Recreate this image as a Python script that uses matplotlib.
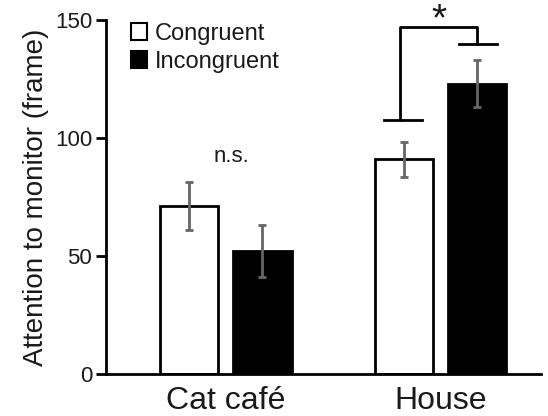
import numpy as np
import matplotlib
matplotlib.use("Agg")
import matplotlib.pyplot as plt
from matplotlib.patches import Patch

plt.rcParams["font.family"] = ["Liberation Sans", "DejaVu Sans"]

# data
groups = ["Cat café", "House"]
congruent = [71, 91]
congruent_err = [10.2, 7.5]
incongruent = [52, 123]
incongruent_err = [11, 10]
y_ticks = [0, 50, 100, 150]

fig = plt.figure(figsize=(5.48, 4.16), dpi=100)
ax = fig.add_axes([0.1934, 0.101, 0.7936, 0.851])

x = np.arange(len(groups))
width = 0.27
offset = 0.17
err_kw = dict(ecolor="#666666", elinewidth=2, capsize=3, capthick=2)

ax.bar(x - offset, congruent, width, yerr=congruent_err, color="white",
       edgecolor="black", linewidth=2, error_kw=err_kw, label="Congruent")
ax.bar(x + offset, incongruent, width, yerr=incongruent_err, color="black",
       edgecolor="black", linewidth=2, error_kw=err_kw, label="Incongruent")

ax.set_xlim(-0.558, 1.465)
ax.set_ylim(0, 150)
ax.set_yticks(y_ticks)
ax.set_xticks(x)
ax.set_xticklabels(groups, fontsize=23)
ax.tick_params(axis="x", length=0, pad=9, colors="#1a1a1a")
ax.tick_params(axis="y", length=7, width=2, labelsize=16, pad=3, labelcolor="#1a1a1a")
for s in ["top", "right"]:
    ax.spines[s].set_visible(False)
for s in ["left", "bottom"]:
    ax.spines[s].set_linewidth(2)

ax.set_ylabel("Attention to monitor (frame)", fontsize=20, color="#1a1a1a", labelpad=4)

# significance bracket for House
lw = 2
ax.plot([0.733, 0.912], [107.6, 107.6], color="black", lw=lw, clip_on=False)
ax.plot([0.809, 0.809, 1.167, 1.167], [107.6, 147.2, 147.2, 139.7],
        color="black", lw=lw, clip_on=False)
ax.plot([1.082, 1.26], [139.7, 139.7], color="black", lw=lw, clip_on=False)
ax.text(0.99, 150, "*", fontsize=28, ha="center", va="center", color="#1a1a1a")
ax.text(0.026, 92, "n.s.", fontsize=16, ha="center", va="center", color="#1a1a1a")

handles = [Patch(facecolor="white", edgecolor="black", linewidth=1.5),
           Patch(facecolor="black", edgecolor="black", linewidth=1.5)]
ax.legend(handles, ["Congruent", "Incongruent"], loc="upper left",
          bbox_to_anchor=(0.03, 1.025), frameon=False, fontsize=17,
          handlelength=0.7, handleheight=0.7, handletextpad=0.3,
          labelspacing=0.25, borderpad=0, labelcolor="#1a1a1a")

fig.savefig("out.png", dpi=100)
